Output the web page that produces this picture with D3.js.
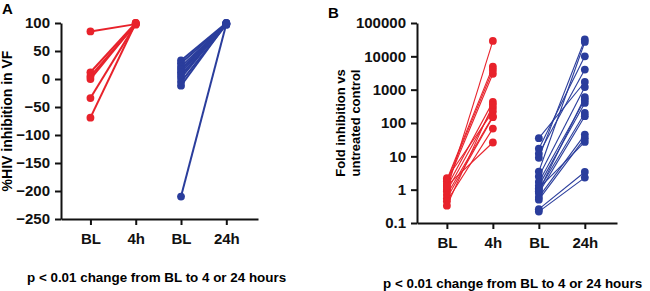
<!DOCTYPE html>
<html>
<head>
<meta charset="utf-8">
<script src="https://cdn.jsdelivr.net/npm/d3@7"></script>
<style>
  body { margin: 0; background: #fff; }
  svg { display: block; font-family: "Liberation Sans", Arial, sans-serif; font-weight: bold; }
</style>
</head>
<body>
<svg id="chart" width="650" height="291"></svg>
<script>
// x categories (same for both panels)
var groups = ['BL', '4h', 'BL', '24h'];

// panel A: %HIV inhibition in VF
var aRedBL   = [85, 12, 5, 0, -34, -69];
var aRed4h   = [98, 100, 97, 99, 98, 100];
var aBlueBL  = [33, 28, 22, 17, 12, 7, 2, -5, -12, -210];
var aBlue24h = [100, 99, 98, 97, 99, 98, 100, 97, 99, 98];
var aTicks   = [100, 50, 0, -50, -100, -150, -200, -250];

// panel B: fold inhibition vs untreated control
var bRedBL   = [1.0, 2.0, 1.8, 1.5, 1.2, 0.9, 2.2, 0.7, 0.55, 0.45, 1.3, 0.33];
var bRed4h   = [29000, 4900, 3900, 3000, 430, 280, 220, 160, 150, 68, 26, 350];
var bBlueBL  = [35, 17, 12, 9, 3.5, 2.5, 1.7, 1.3, 1.0, 0.8, 0.6, 0.5, 1.1, 0.26, 0.22, 0.9];
var bBlue24h = [1700, 10000, 4000, 32000, 27000, 1200, 500, 400, 200, 160, 45, 35, 27, 3.4, 2.3, 600];
var bTicks   = [100000, 10000, 1000, 100, 10, 1, 0.1];

var red = '#e8222b';
var blue = '#2a3d9c';

var svg = d3.select('#chart');

function panel(opts) {
  var g = svg.append('g');
  var x = d3.scaleLinear().domain([-0.65, 3.7]).range(opts.xr);
  var y = opts.y;

  // lines + dots for one colour group
  function pairs(bl, post, i0, i1, color) {
    var d = bl.map((v, i) => [v, post[i]]);
    g.selectAll(null).data(d).enter().append('line')
      .attr('x1', x(i0)).attr('x2', x(i1))
      .attr('y1', p => y(p[0])).attr('y2', p => y(p[1]))
      .attr('stroke', color).attr('stroke-width', opts.lw);
    g.selectAll(null).data(bl).enter().append('circle')
      .attr('cx', x(i0)).attr('cy', v => y(v)).attr('r', 3.9).attr('fill', color);
    g.selectAll(null).data(post).enter().append('circle')
      .attr('cx', x(i1)).attr('cy', v => y(v)).attr('r', 3.9).attr('fill', color);
  }
  pairs(opts.redBL, opts.redPost, 0, 1, red);
  pairs(opts.blueBL, opts.bluePost, 2, 3, blue);

  var yAxis = g.append('g')
    .attr('transform', `translate(${opts.xr[0]},0)`)
    .call(d3.axisLeft(y).tickValues(opts.ticks).tickFormat(opts.fmt).tickSize(6).tickPadding(5).tickSizeOuter(0));
  var xAxis = g.append('g')
    .attr('transform', `translate(0,${y.range()[0]})`)
    .call(d3.axisBottom(x).tickValues([0, 1, 2, 3]).tickFormat(i => groups[i]).tickSize(6).tickPadding(8).tickSizeOuter(0));

  [yAxis, xAxis].forEach(a => {
    a.selectAll('path, line').attr('stroke', '#111').attr('stroke-width', 2);
    a.selectAll('text').attr('fill', '#111').style('font-size', '15px').style('font-weight', 'bold')
      .attr('font-family', '"Liberation Sans", Arial, sans-serif');
  });
  return g;
}

panel({
  xr: [61, 258],
  y: d3.scaleLinear().domain([-250, 100]).range([219, 23]),
  ticks: aTicks, fmt: d3.format('d'), lw: 2,
  redBL: aRedBL, redPost: aRed4h, blueBL: aBlueBL, bluePost: aBlue24h
});

panel({
  xr: [417, 617],
  y: d3.scaleLog().domain([0.1, 100000]).range([223, 23]),
  ticks: bTicks, fmt: d => d < 1 ? '0.1' : d3.format('d')(d), lw: 1.1,
  redBL: bRedBL, redPost: bRed4h, blueBL: bBlueBL, bluePost: bBlue24h
});

// titles and labels
svg.append('text').attr('x', 2).attr('y', 14).style('font-size', '15px').text('A');
svg.append('text').attr('x', 328).attr('y', 18).style('font-size', '15px').text('B');

svg.append('text')
  .attr('transform', 'translate(12,121) rotate(-90)')
  .attr('text-anchor', 'middle').style('font-size', '14px')
  .text('%HIV inhibition in VF');

var bt = svg.append('text')
  .attr('transform', 'translate(345,123) rotate(-90)')
  .attr('text-anchor', 'middle').style('font-size', '13px');
bt.append('tspan').attr('x', 0).attr('y', 0).text('Fold inhibition vs');
bt.append('tspan').attr('x', 0).attr('y', 15).text('untreated control');

svg.append('text').attr('x', 27).attr('y', 282).style('font-size', '13.4px')
  .text('p < 0.01 change from BL to 4 or 24 hours');
svg.append('text').attr('x', 383).attr('y', 288).style('font-size', '13.4px')
  .text('p < 0.01 change from BL to 4 or 24 hours');
</script>
</body>
</html>
